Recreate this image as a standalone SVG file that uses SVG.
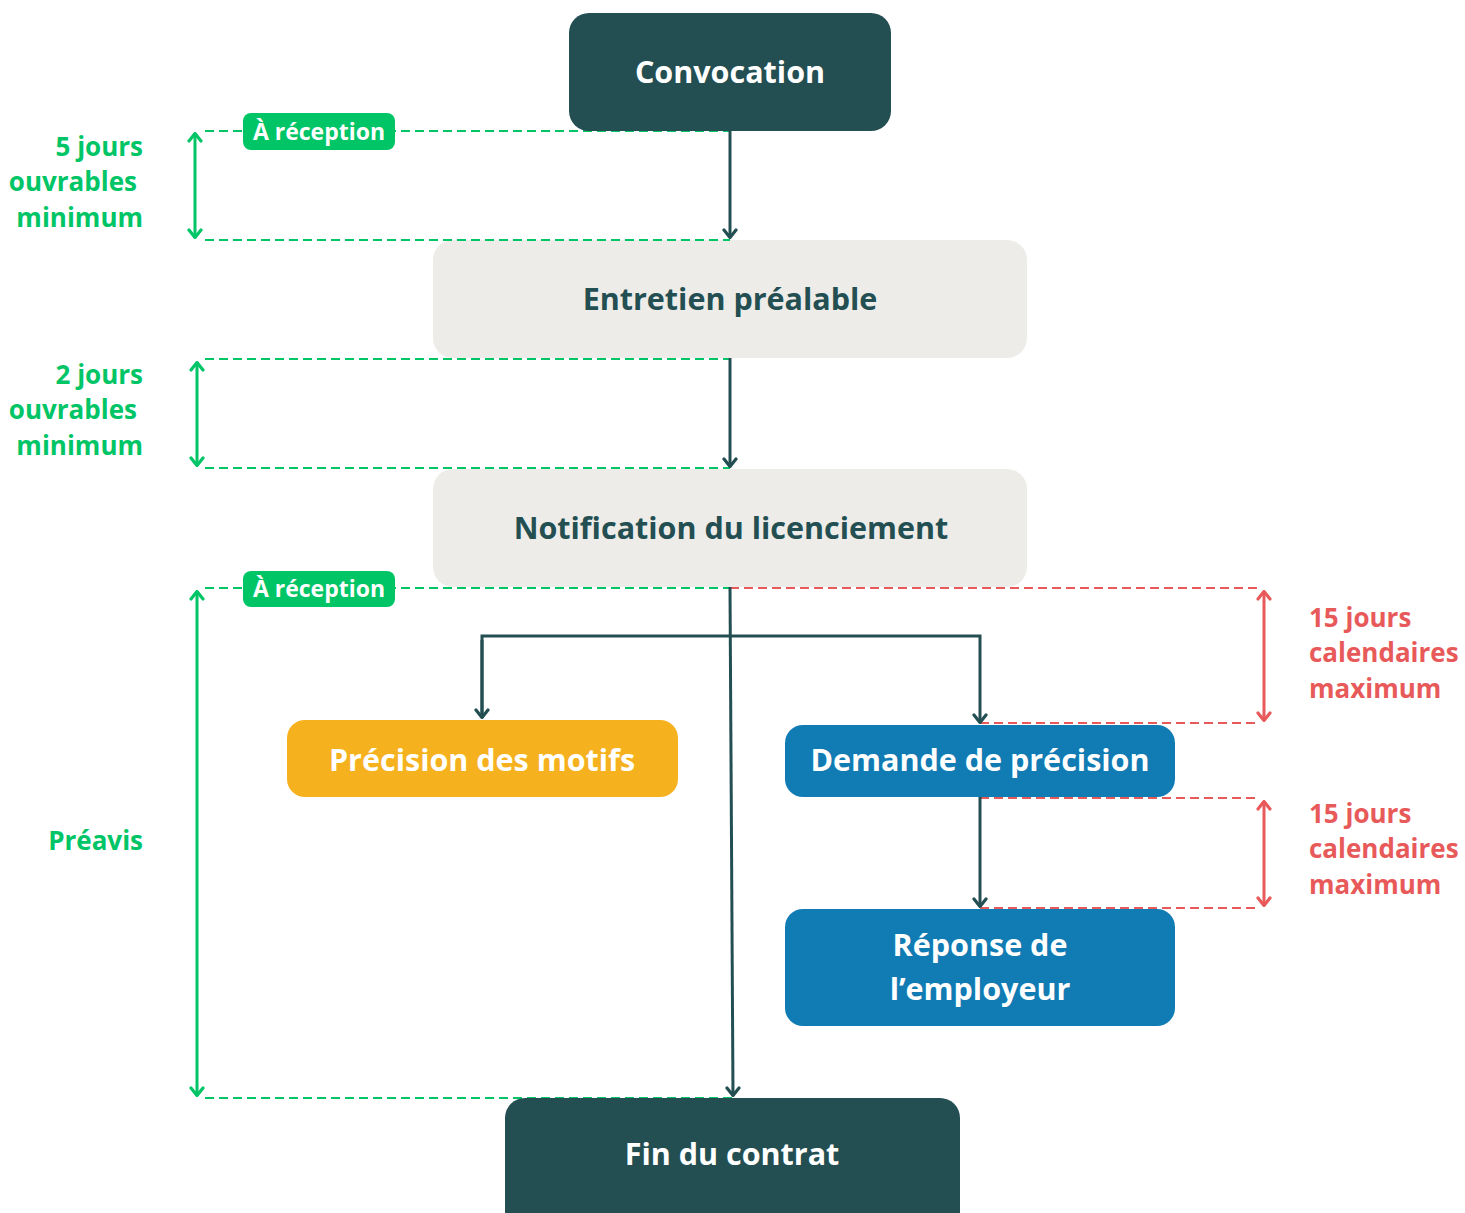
<svg xmlns="http://www.w3.org/2000/svg" width="1465" height="1213" viewBox="0 0 1465 1213">
<style>
.node-dark{fill:#234f53}
.node-light{fill:#edece8}
.t{font-family:"Open Sans",Lato,sans-serif;font-weight:700;font-size:30.5px;text-anchor:middle;dominant-baseline:central}
.tw{fill:#ffffff}
.td{fill:#234f53}
.gl{font-family:"Open Sans",Lato,sans-serif;font-weight:700;font-size:26px;fill:#00c566;text-anchor:end}
.rl{font-family:"Open Sans",Lato,sans-serif;font-weight:700;font-size:26px;fill:#e85a5a}
.pill{fill:#00c566}
.pt{font-family:"Open Sans",Lato,sans-serif;font-weight:700;font-size:23px;fill:#ffffff;text-anchor:middle;dominant-baseline:central}
.conn{stroke:#234f53;stroke-width:3;fill:none}
.gd{stroke:#00c566;stroke-width:1.8;stroke-dasharray:9 5;fill:none}
.rd{stroke:#e85a5a;stroke-width:1.8;stroke-dasharray:9 5;fill:none}
.ga{stroke:#00c566;stroke-width:3;fill:none}
.ra{stroke:#e85a5a;stroke-width:3;fill:none}
</style>
<defs>
<marker id="adn" viewBox="0 0 16 11" refX="8" refY="10" markerWidth="16" markerHeight="11" markerUnits="userSpaceOnUse" orient="0">
<path d="M2,2 L8,9.5 L14,2" fill="none" stroke="#234f53" stroke-width="3.2" stroke-linecap="round" stroke-linejoin="round"/>
</marker>
<marker id="gdn" viewBox="0 0 16 11" refX="8" refY="10" markerWidth="16" markerHeight="11" markerUnits="userSpaceOnUse" orient="0">
<path d="M2,2 L8,9.5 L14,2" fill="none" stroke="#00c566" stroke-width="3.2" stroke-linecap="round" stroke-linejoin="round"/>
</marker>
<marker id="gup" viewBox="0 0 16 11" refX="8" refY="1" markerWidth="16" markerHeight="11" markerUnits="userSpaceOnUse" orient="0">
<path d="M2,9 L8,1.5 L14,9" fill="none" stroke="#00c566" stroke-width="3.2" stroke-linecap="round" stroke-linejoin="round"/>
</marker>
<marker id="rdn" viewBox="0 0 16 11" refX="8" refY="10" markerWidth="16" markerHeight="11" markerUnits="userSpaceOnUse" orient="0">
<path d="M2,2 L8,9.5 L14,2" fill="none" stroke="#e85a5a" stroke-width="3.2" stroke-linecap="round" stroke-linejoin="round"/>
</marker>
<marker id="rup" viewBox="0 0 16 11" refX="8" refY="1" markerWidth="16" markerHeight="11" markerUnits="userSpaceOnUse" orient="0">
<path d="M2,9 L8,1.5 L14,9" fill="none" stroke="#e85a5a" stroke-width="3.2" stroke-linecap="round" stroke-linejoin="round"/>
</marker>
</defs>

<g id="nodes-bg">
<g id="n-entretien"><rect class="node-light" x="433" y="240" width="594" height="118" rx="20"/><text class="t td" x="730" y="298">Entretien préalable</text></g>
<g id="n-notification"><rect class="node-light" x="433" y="469" width="594" height="118" rx="20"/><text class="t td" x="731" y="527">Notification du licenciement</text></g>
</g>

<g id="guides">
<path class="gd" d="M205,131 H730 M205,240 H730 M205,359 H730 M205,468 H730 M205,588 H730 M205,1098 H733"/>
<path class="rd" d="M730,588 H1257 M980,723 H1257 M980,798 H1257 M980,908 H1257"/>
<line class="ga" x1="195" y1="133" x2="195" y2="238" marker-start="url(#gup)" marker-end="url(#gdn)"/>
<line class="ga" x1="197" y1="362" x2="197" y2="466" marker-start="url(#gup)" marker-end="url(#gdn)"/>
<line class="ga" x1="197" y1="591" x2="197" y2="1096" marker-start="url(#gup)" marker-end="url(#gdn)"/>
<line class="ra" x1="1264" y1="591" x2="1264" y2="721" marker-start="url(#rup)" marker-end="url(#rdn)"/>
<line class="ra" x1="1264" y1="801" x2="1264" y2="906" marker-start="url(#rup)" marker-end="url(#rdn)"/>
</g>

<g id="connectors">
<line class="conn" x1="730" y1="131" x2="730" y2="238" marker-end="url(#adn)"/>
<line class="conn" x1="730" y1="358" x2="730" y2="467" marker-end="url(#adn)"/>
<line class="conn" x1="730" y1="587" x2="733" y2="1096" marker-end="url(#adn)"/>
<path class="conn" d="M482,718 V636 H980 V723" marker-end="url(#adn)"/>
<line class="conn" x1="482" y1="640" x2="482" y2="718" marker-end="url(#adn)"/>
<line class="conn" x1="980" y1="797" x2="980" y2="907" marker-end="url(#adn)"/>
</g>

<g id="n-convocation"><rect class="node-dark" x="569" y="13" width="322" height="118" rx="20"/><text class="t tw" x="730" y="71">Convocation</text></g>
<g id="n-precision"><rect fill="#f6b11e" x="287" y="720" width="391" height="77" rx="18"/><text class="t tw" x="482" y="759">Précision des motifs</text></g>
<g id="n-demande"><rect fill="#117bb4" x="785" y="725" width="390" height="72" rx="18"/><text class="t tw" x="980" y="759">Demande de précision</text></g>
<g id="n-reponse"><rect fill="#117bb4" x="785" y="909" width="390" height="117" rx="18"/><text class="t tw" x="980" y="944">Réponse de</text><text class="t tw" x="980" y="988">l’employeur</text></g>
<g id="n-fin"><rect class="node-dark" x="505" y="1098" width="455" height="135" rx="20"/><text class="t tw" x="732" y="1153">Fin du contrat</text></g>

<g id="pill1"><rect class="pill" x="243" y="113" width="152" height="37" rx="8"/><text class="pt" x="319" y="131">À réception</text></g>
<g id="pill2"><rect class="pill" x="243" y="571" width="152" height="36" rx="8"/><text class="pt" x="319" y="588">À réception</text></g>

<g id="labels">
<text class="gl" x="143" y="156">5 jours</text>
<text class="gl" x="137" y="191">ouvrables</text>
<text class="gl" x="143" y="227">minimum</text>
<text class="gl" x="143" y="384">2 jours</text>
<text class="gl" x="137" y="419">ouvrables</text>
<text class="gl" x="143" y="455">minimum</text>
<text class="gl" x="143" y="850">Préavis</text>
<text class="rl" x="1309" y="627">15 jours</text>
<text class="rl" x="1309" y="662">calendaires</text>
<text class="rl" x="1309" y="698">maximum</text>
<text class="rl" x="1309" y="823">15 jours</text>
<text class="rl" x="1309" y="858">calendaires</text>
<text class="rl" x="1309" y="894">maximum</text>
</g>
</svg>
